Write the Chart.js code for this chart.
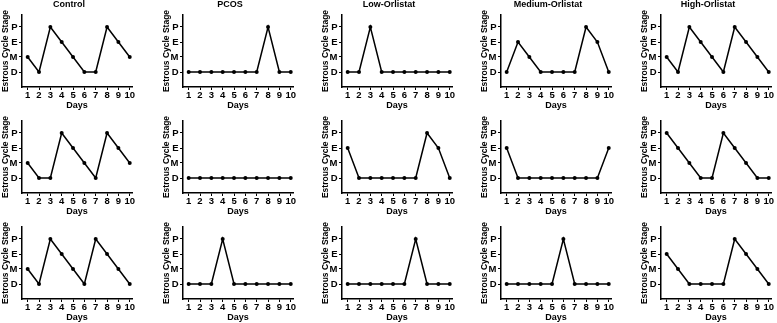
<!DOCTYPE html>
<html>
<head>
<meta charset="utf-8">
<script src="https://cdn.jsdelivr.net/npm/chart.js@4"></script>
<style>
    html, body { margin: 0; padding: 0; background: #fff; overflow: hidden; }
    #grid { position: relative; width: 777px; height: 323px; }
    .panel { position: absolute; }
</style>
</head>
<body>
<div id="grid"></div>
<script>
var days = [1, 2, 3, 4, 5, 6, 7, 8, 9, 10];
var stageLabels = ['D', 'M', 'E', 'P'];
var groupNames = ['Control', 'PCOS', 'Low-Orlistat', 'Medium-Orlistat', 'High-Orlistat'];

// stage per day: 1 = D, 2 = M, 3 = E, 4 = P
var control1 = [2, 1, 4, 3, 2, 1, 1, 4, 3, 2];
var control2 = [2, 1, 1, 4, 3, 2, 1, 4, 3, 2];
var control3 = [2, 1, 4, 3, 2, 1, 4, 3, 2, 1];
var pcos1 = [1, 1, 1, 1, 1, 1, 1, 4, 1, 1];
var pcos2 = [1, 1, 1, 1, 1, 1, 1, 1, 1, 1];
var pcos3 = [1, 1, 1, 4, 1, 1, 1, 1, 1, 1];
var low1 = [1, 1, 4, 1, 1, 1, 1, 1, 1, 1];
var low2 = [3, 1, 1, 1, 1, 1, 1, 4, 3, 1];
var low3 = [1, 1, 1, 1, 1, 1, 4, 1, 1, 1];
var medium1 = [1, 3, 2, 1, 1, 1, 1, 4, 3, 1];
var medium2 = [3, 1, 1, 1, 1, 1, 1, 1, 1, 3];
var medium3 = [1, 1, 1, 1, 1, 4, 1, 1, 1, 1];
var high1 = [2, 1, 4, 3, 2, 1, 4, 3, 2, 1];
var high2 = [4, 3, 2, 1, 1, 4, 3, 2, 1, 1];
var high3 = [3, 2, 1, 1, 1, 1, 4, 3, 2, 1];

var rows = [
    [control1, pcos1, low1, medium1, high1],
    [control2, pcos2, low2, medium2, high2],
    [control3, pcos3, low3, medium3, high3]
];

var colAxisX = [22, 183, 342, 501, 661];
var rowPlotTop = [15, 121, 227];
var plotW = 110;
var plotH = 72;
var fontFamily = '"Liberation Sans", Arial, sans-serif';

var panelTitle = {
    id: 'panelTitle',
    afterDraw: function (chart) {
        var text = chart.options.plugins.panelTitle.text;
        if (!text) return;
        var ctx = chart.ctx;
        var area = chart.chartArea;
        ctx.save();
        ctx.font = 'bold 9px ' + fontFamily;
        ctx.fillStyle = '#000';
        ctx.textAlign = 'center';
        ctx.textBaseline = 'middle';
        ctx.fillText(text, (area.left + area.right) / 2 - 8, 5);
        ctx.restore();
    }
};

var grid = document.getElementById('grid');

rows.forEach(function (row, r) {
    row.forEach(function (values, c) {
        var div = document.createElement('div');
        div.className = 'panel';
        div.style.left = (colAxisX[c] - 22) + 'px';
        div.style.top = (rowPlotTop[r] - 15) + 'px';
        var canvas = document.createElement('canvas');
        canvas.width = 22 + plotW + 8;
        canvas.height = 15 + plotH + 24;
        div.appendChild(canvas);
        grid.appendChild(div);

        var points = days.map(function (d, i) {
            return { x: d, y: values[i] };
        });

        new Chart(canvas, {
            type: 'line',
            data: {
                datasets: [{
                    data: points,
                    borderColor: '#000',
                    borderWidth: 1.5,
                    pointRadius: 2,
                    pointBackgroundColor: '#000',
                    pointBorderWidth: 0,
                    tension: 0
                }]
            },
            plugins: [panelTitle],
            options: {
                responsive: false,
                animation: false,
                layout: { padding: { top: 15, right: 8, left: 0, bottom: 0 } },
                plugins: {
                    legend: { display: false },
                    tooltip: { enabled: false },
                    panelTitle: { text: r === 0 ? groupNames[c] : '' }
                },
                scales: {
                    x: {
                        type: 'linear',
                        min: 0.5,
                        max: 10.2,
                        afterBuildTicks: function (scale) {
                            scale.ticks = days.map(function (d) { return { value: d }; });
                        },
                        afterFit: function (scale) { scale.height = 24; },
                        grid: { drawOnChartArea: false, tickLength: 3, color: '#000', lineWidth: 1 },
                        border: { color: '#000', width: 1.5 },
                        ticks: {
                            color: '#000',
                            padding: 0,
                            autoSkip: false,
                            maxRotation: 0,
                            font: { family: fontFamily, size: 9.5, weight: 'bold' }
                        },
                        title: {
                            display: true,
                            text: 'Days',
                            color: '#000',
                            padding: 0,
                            font: { family: fontFamily, size: 9, weight: 'bold' }
                        }
                    },
                    y: {
                        min: 0,
                        max: 4.8,
                        afterBuildTicks: function (scale) {
                            scale.ticks = [1, 2, 3, 4].map(function (v) { return { value: v }; });
                        },
                        afterFit: function (scale) { scale.width = 22; },
                        grid: { drawOnChartArea: false, tickLength: 3, color: '#000', lineWidth: 1 },
                        border: { color: '#000', width: 1.5 },
                        ticks: {
                            color: '#000',
                            padding: 1.5,
                            callback: function (v) { return stageLabels[v - 1]; },
                            font: { family: fontFamily, size: 9.5, weight: 'bold' }
                        },
                        title: {
                            display: true,
                            text: 'Estrous Cycle Stage',
                            color: '#000',
                            padding: { top: 1, bottom: 0 },
                            font: { family: fontFamily, size: 8.5, weight: 'bold' }
                        }
                    }
                }
            }
        });
    });
});
</script>
</body>
</html>
